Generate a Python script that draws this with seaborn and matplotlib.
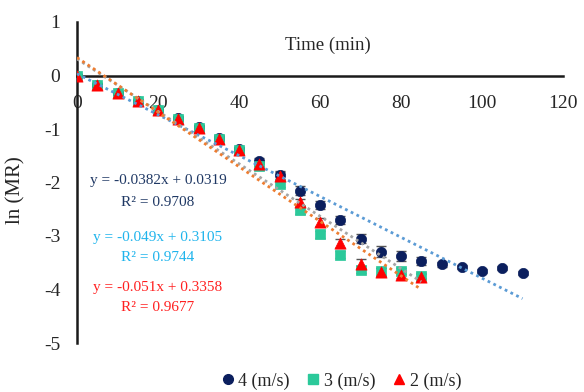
import numpy as np
import pandas as pd
import matplotlib
matplotlib.use("Agg")
import matplotlib.pyplot as plt
import seaborn as sns
from matplotlib.lines import Line2D

# ---- data ----
time_4 = [0, 5, 10, 15, 20, 25, 30, 35, 40, 45, 50, 55, 60, 65, 70, 75, 80, 85, 90, 95, 100, 105, 110]
lnmr_4 = [0, -0.18, -0.33, -0.48, -0.64, -0.80, -0.97, -1.16, -1.38, -1.60, -1.86, -2.15, -2.42, -2.70, -3.05, -3.29, -3.37, -3.47, -3.53, -3.58, -3.66, -3.60, -3.69]
err_4 = [0.02, 0.03, 0.03, 0.03, 0.04, 0.04, 0.04, 0.05, 0.05, 0.06, 0.07, 0.08, 0.07, 0.08, 0.09, 0.10, 0.09, 0.08, 0.05, 0.04, 0.04, 0.04, 0.04]

time_3 = [0, 5, 10, 15, 20, 25, 30, 35, 40, 45, 50, 55, 60, 65, 70, 75, 80, 85]
lnmr_3 = [0, -0.17, -0.33, -0.48, -0.65, -0.81, -0.99, -1.18, -1.40, -1.70, -2.03, -2.52, -2.97, -3.35, -3.63, -3.66, -3.65, -3.74]
err_3 = [0.02, 0.03, 0.03, 0.03, 0.03, 0.04, 0.04, 0.04, 0.05, 0.05, 0.06, 0.06, 0.07, 0.07, 0.06, 0.06, 0.06, 0.05]

time_2 = [0, 5, 10, 15, 20, 25, 30, 35, 40, 45, 50, 55, 60, 65, 70, 75, 80, 85]
lnmr_2 = [0, -0.17, -0.33, -0.48, -0.65, -0.81, -0.99, -1.18, -1.40, -1.65, -1.87, -2.37, -2.74, -3.14, -3.52, -3.67, -3.72, -3.76]
err_2 = [0.02, 0.03, 0.03, 0.03, 0.03, 0.04, 0.04, 0.04, 0.05, 0.05, 0.06, 0.07, 0.08, 0.09, 0.09, 0.07, 0.06, 0.05]

series_labels = ["4 (m/s)", "3 (m/s)", "2 (m/s)"]
slopes = [-0.0382, -0.049, -0.051]
intercepts = [0.0319, 0.3105, 0.3358]
r2 = [0.9708, 0.9744, 0.9677]
fit_end = [110, 85, 85]

x_ticks = [0, 20, 40, 60, 80, 100, 120]
y_ticks = [-5, -4, -3, -2, -1, 0, 1]

# ---- style ----
sns.set_style("white")
plt.rcParams['font.family'] = ['Liberation Serif', 'DejaVu Serif']

marker_colors = ["#0b1f5e", "#2bc99a", "#ff0000"]
markers = ["o", "s", "^"]
msizes = [55, 50, 65]
line_colors = ["#5b9bd5", "#a5a5a5", "#ed7d31"]
text_colors = ["#1f3864", "#1fb4ec", "#ff2020"]

fig = plt.figure(figsize=(5.84, 3.92), dpi=100)
ax = fig.add_axes([77/584, 1-343/392, (563-77)/584, (343-22)/392])

times = [time_4, time_3, time_2]
vals = [lnmr_4, lnmr_3, lnmr_2]
errs = [err_4, err_3, err_2]

# error bars
for t, v, e in zip(times, vals, errs):
    ax.errorbar(t, v, yerr=e, fmt='none', ecolor='#555555', elinewidth=1.0,
                capsize=3.5, capthick=1.0, zorder=2)

# markers
for i, (t, v) in enumerate(zip(times, vals)):
    df = pd.DataFrame({"t": t, "v": v})
    sns.scatterplot(data=df, x="t", y="v", ax=ax, marker=markers[i], s=msizes[i],
                    color=marker_colors[i], edgecolor=marker_colors[i], linewidth=0.5,
                    zorder=3 + i, legend=False)

# trendlines
for i in range(3):
    xs = np.array([0, fit_end[i]])
    df = pd.DataFrame({"x": xs, "y": slopes[i] * xs + intercepts[i]})
    sns.lineplot(data=df, x="x", y="y", ax=ax, color=line_colors[i], linestyle=(0, (1, 1.3)),
                 linewidth=2.0, zorder=6, legend=False)

ax.set_xlim(0, 120)
ax.set_ylim(-5, 1)
ax.set_xticks(x_ticks)
ax.set_yticks(y_ticks)
ax.set_xticklabels([str(v) for v in x_ticks])
ax.set_yticklabels([str(v) for v in y_ticks])
ax.spines['bottom'].set_position(('data', 0))
ax.spines['top'].set_visible(False)
ax.spines['right'].set_visible(False)
for s in ['left', 'bottom']:
    ax.spines[s].set_linewidth(1.8)
    ax.spines[s].set_color('#1a1a1a')
ax.tick_params(axis='both', length=0)
ax.tick_params(axis='x', pad=14, labelsize=14)
ax.tick_params(axis='y', pad=12, labelsize=14)
ax.set_xlabel("")
ax.set_ylabel("ln (MR)", fontsize=15)
ax.yaxis.set_label_coords(-0.105, 0.477)
ax.text(62, 0.56, "Time (min)", ha='center', va='center', fontsize=13.5)

# equations
eq_pos = [(-1.97, -2.37), (-3.02, -3.40), (-3.96, -4.34)]
for i in range(3):
    ax.text(20, eq_pos[i][0], f"y = {slopes[i]}x + {intercepts[i]}", ha='center', va='center',
            fontsize=11, color=text_colors[i])
    ax.text(20, eq_pos[i][1], f"R² = {r2[i]}", ha='center', va='center',
            fontsize=11, color=text_colors[i])

# legend
leg_handles = [Line2D([0], [0], marker=markers[i], color='none', markerfacecolor=marker_colors[i],
                      markeredgecolor=marker_colors[i], markersize=7) for i in range(3)]
fig.legend(leg_handles, series_labels, loc='center', bbox_to_anchor=(340/584, 1-381/392),
           ncol=3, frameon=False, fontsize=13, handletextpad=0.1, columnspacing=0.8,
           handlelength=1.0)

fig.savefig("out.png", dpi=100)
